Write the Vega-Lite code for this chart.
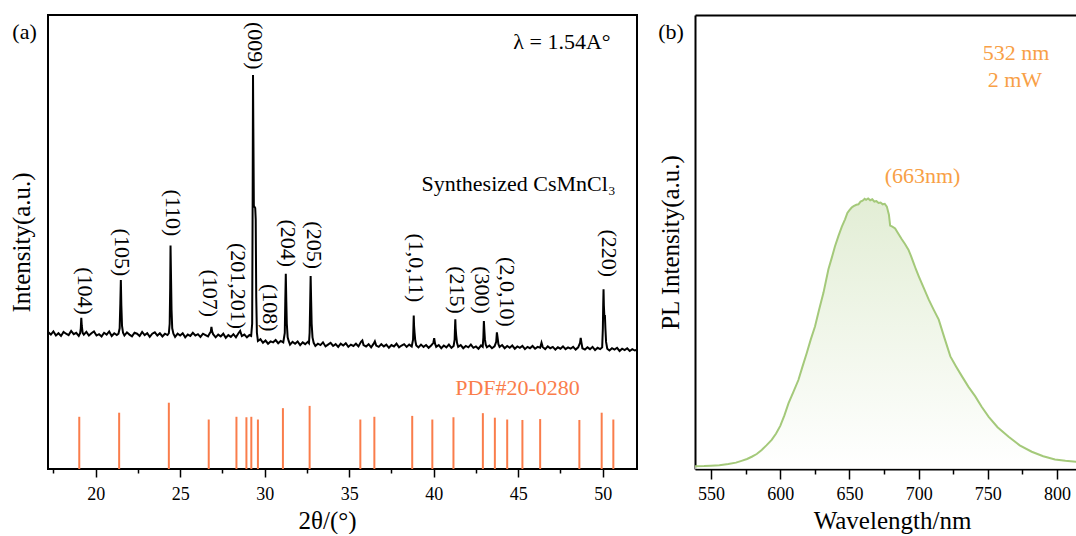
{
"$schema": "https://vega.github.io/schema/vega-lite/v6.json",
"padding": {"left": 8, "top": 14, "right": 0, "bottom": 0},
"config": {
 "font": "Liberation Serif",
 "view": {"stroke": "black", "strokeWidth": 2},
 "style": {"guide-label": {"font": "Liberation Serif", "fontSize": 18, "fill": "black"}, "guide-title": {"font": "Liberation Serif", "fontSize": 25, "fontWeight": "normal", "fill": "black"}},
 "axis": {"labelFont": "Liberation Serif", "labelFontSize": 18, "labelColor": "black", "titleFont": "Liberation Serif", "titleFontSize": 25, "titleFontWeight": "normal", "titleColor": "black", "domainColor": "black", "domainWidth": 2, "tickColor": "black", "tickWidth": 1.5, "grid": false},
 "concat": {"spacing": 20}
},
"hconcat": [
{
 "width": 589, "height": 454,
 "layer": [
  {
   "data": {"values": [
{"x":17.20,"y":30.1},{"x":17.35,"y":29.6},{"x":17.50,"y":30.3},{"x":17.65,"y":29.4},{"x":17.80,"y":29.9},{"x":17.95,"y":29.3},{"x":18.10,"y":30.2},{"x":18.25,"y":29.8},{"x":18.40,"y":29.5},{"x":18.55,"y":30.4},{"x":18.70,"y":29.7},{"x":18.85,"y":30.0},{"x":19.00,"y":29.3},{"x":19.08,"y":29.9},{"x":19.12,"y":31.0},{"x":19.15,"y":33.3},{"x":19.18,"y":31.5},{"x":19.23,"y":30.0},{"x":19.30,"y":29.6},{"x":19.45,"y":30.2},{"x":19.60,"y":29.4},{"x":19.75,"y":29.9},{"x":19.90,"y":30.3},{"x":20.05,"y":29.4},{"x":20.20,"y":29.7},{"x":20.35,"y":29.2},{"x":20.50,"y":30.0},{"x":20.65,"y":29.6},{"x":20.80,"y":30.3},{"x":20.95,"y":29.3},{"x":21.10,"y":29.9},{"x":21.25,"y":29.5},{"x":21.35,"y":29.8},{"x":21.42,"y":31.0},{"x":21.46,"y":36.5},{"x":21.49,"y":41.6},{"x":21.52,"y":36.0},{"x":21.56,"y":31.5},{"x":21.62,"y":30.0},{"x":21.70,"y":29.4},{"x":21.85,"y":30.1},{"x":22.00,"y":29.6},{"x":22.15,"y":29.2},{"x":22.30,"y":30.0},{"x":22.45,"y":29.8},{"x":22.60,"y":29.3},{"x":22.75,"y":30.2},{"x":22.90,"y":29.5},{"x":23.05,"y":29.9},{"x":23.20,"y":29.1},{"x":23.35,"y":29.8},{"x":23.50,"y":30.1},{"x":23.65,"y":29.4},{"x":23.80,"y":29.9},{"x":23.95,"y":29.2},{"x":24.10,"y":29.8},{"x":24.25,"y":29.5},{"x":24.33,"y":29.9},{"x":24.38,"y":32.0},{"x":24.41,"y":40.0},{"x":24.43,"y":49.2},{"x":24.46,"y":42.0},{"x":24.49,"y":35.0},{"x":24.53,"y":31.0},{"x":24.60,"y":29.8},{"x":24.70,"y":29.1},{"x":24.85,"y":29.8},{"x":25.00,"y":29.4},{"x":25.15,"y":29.9},{"x":25.30,"y":29.0},{"x":25.45,"y":29.6},{"x":25.60,"y":29.3},{"x":25.75,"y":30.0},{"x":25.90,"y":29.4},{"x":26.05,"y":29.7},{"x":26.20,"y":29.1},{"x":26.35,"y":29.8},{"x":26.50,"y":29.5},{"x":26.65,"y":29.2},{"x":26.75,"y":29.9},{"x":26.81,"y":30.2},{"x":26.85,"y":31.3},{"x":26.89,"y":30.3},{"x":26.95,"y":29.7},{"x":27.10,"y":29.0},{"x":27.25,"y":29.6},{"x":27.40,"y":29.2},{"x":27.55,"y":29.8},{"x":27.70,"y":28.9},{"x":27.85,"y":29.5},{"x":28.00,"y":29.1},{"x":28.15,"y":29.7},{"x":28.30,"y":29.0},{"x":28.45,"y":29.9},{"x":28.55,"y":30.4},{"x":28.65,"y":29.3},{"x":28.80,"y":29.6},{"x":28.95,"y":29.0},{"x":29.10,"y":29.5},{"x":29.20,"y":29.3},{"x":29.26,"y":32.0},{"x":29.29,"y":60.0},{"x":29.31,"y":86.8},{"x":29.33,"y":75.0},{"x":29.36,"y":58.0},{"x":29.44,"y":57.5},{"x":29.47,"y":55.0},{"x":29.50,"y":38.0},{"x":29.54,"y":30.0},{"x":29.60,"y":28.2},{"x":29.75,"y":28.6},{"x":29.90,"y":27.8},{"x":30.05,"y":28.3},{"x":30.20,"y":27.6},{"x":30.35,"y":28.1},{"x":30.50,"y":27.9},{"x":30.65,"y":28.4},{"x":30.80,"y":27.7},{"x":30.95,"y":28.2},{"x":31.10,"y":27.9},{"x":31.19,"y":30.0},{"x":31.22,"y":37.0},{"x":31.25,"y":43.0},{"x":31.28,"y":37.0},{"x":31.31,"y":32.0},{"x":31.36,"y":29.0},{"x":31.42,"y":28.2},{"x":31.50,"y":27.4},{"x":31.65,"y":28.0},{"x":31.80,"y":27.6},{"x":31.95,"y":28.1},{"x":32.10,"y":27.3},{"x":32.25,"y":27.9},{"x":32.40,"y":27.5},{"x":32.55,"y":28.0},{"x":32.62,"y":27.7},{"x":32.66,"y":30.0},{"x":32.69,"y":36.0},{"x":32.72,"y":42.5},{"x":32.75,"y":37.0},{"x":32.78,"y":32.0},{"x":32.83,"y":29.0},{"x":32.90,"y":27.8},{"x":33.00,"y":27.1},{"x":33.15,"y":27.6},{"x":33.30,"y":27.3},{"x":33.45,"y":27.9},{"x":33.60,"y":27.0},{"x":33.75,"y":27.4},{"x":33.90,"y":27.8},{"x":34.05,"y":27.1},{"x":34.20,"y":27.5},{"x":34.35,"y":26.9},{"x":34.50,"y":27.6},{"x":34.65,"y":27.2},{"x":34.80,"y":27.7},{"x":34.95,"y":26.9},{"x":35.10,"y":27.4},{"x":35.25,"y":27.1},{"x":35.40,"y":27.6},{"x":35.55,"y":27.0},{"x":35.70,"y":28.0},{"x":35.78,"y":28.3},{"x":35.85,"y":27.3},{"x":36.00,"y":27.0},{"x":36.15,"y":27.5},{"x":36.30,"y":26.8},{"x":36.45,"y":27.6},{"x":36.52,"y":28.1},{"x":36.60,"y":27.2},{"x":36.75,"y":26.9},{"x":36.90,"y":27.5},{"x":37.05,"y":27.0},{"x":37.20,"y":27.4},{"x":37.35,"y":26.7},{"x":37.50,"y":27.3},{"x":37.65,"y":27.0},{"x":37.80,"y":27.6},{"x":37.95,"y":26.8},{"x":38.10,"y":27.2},{"x":38.25,"y":27.5},{"x":38.40,"y":26.9},{"x":38.55,"y":27.4},{"x":38.70,"y":27.0},{"x":38.78,"y":28.5},{"x":38.80,"y":31.0},{"x":38.82,"y":33.8},{"x":38.84,"y":31.5},{"x":38.87,"y":30.0},{"x":38.91,"y":28.3},{"x":38.97,"y":27.2},{"x":39.10,"y":26.8},{"x":39.25,"y":27.4},{"x":39.40,"y":26.9},{"x":39.55,"y":27.3},{"x":39.70,"y":26.7},{"x":39.85,"y":27.2},{"x":39.98,"y":27.8},{"x":40.03,"y":28.8},{"x":40.08,"y":27.6},{"x":40.15,"y":26.9},{"x":40.30,"y":27.3},{"x":40.45,"y":26.6},{"x":40.60,"y":27.2},{"x":40.75,"y":26.8},{"x":40.90,"y":27.4},{"x":41.05,"y":26.7},{"x":41.18,"y":27.1},{"x":41.24,"y":28.5},{"x":41.26,"y":31.0},{"x":41.28,"y":33.0},{"x":41.30,"y":31.0},{"x":41.33,"y":29.5},{"x":41.38,"y":27.8},{"x":41.45,"y":26.9},{"x":41.60,"y":27.3},{"x":41.75,"y":26.6},{"x":41.90,"y":27.1},{"x":42.05,"y":26.8},{"x":42.20,"y":27.4},{"x":42.35,"y":26.7},{"x":42.50,"y":27.0},{"x":42.65,"y":26.5},{"x":42.80,"y":27.2},{"x":42.90,"y":26.9},{"x":42.94,"y":29.0},{"x":42.97,"y":32.6},{"x":43.00,"y":30.5},{"x":43.03,"y":28.6},{"x":43.08,"y":27.4},{"x":43.15,"y":26.8},{"x":43.30,"y":27.2},{"x":43.45,"y":26.6},{"x":43.60,"y":27.0},{"x":43.70,"y":28.0},{"x":43.74,"y":30.1},{"x":43.78,"y":29.0},{"x":43.83,"y":27.5},{"x":43.90,"y":26.9},{"x":44.05,"y":27.3},{"x":44.20,"y":26.6},{"x":44.35,"y":27.1},{"x":44.50,"y":26.7},{"x":44.65,"y":27.2},{"x":44.80,"y":26.5},{"x":44.95,"y":27.0},{"x":45.10,"y":26.7},{"x":45.25,"y":27.1},{"x":45.40,"y":26.4},{"x":45.55,"y":26.9},{"x":45.70,"y":26.6},{"x":45.85,"y":27.1},{"x":46.00,"y":26.5},{"x":46.15,"y":26.9},{"x":46.30,"y":26.7},{"x":46.38,"y":27.8},{"x":46.45,"y":26.9},{"x":46.60,"y":26.4},{"x":46.75,"y":27.0},{"x":46.90,"y":26.6},{"x":47.05,"y":26.9},{"x":47.20,"y":26.3},{"x":47.35,"y":26.8},{"x":47.50,"y":26.5},{"x":47.65,"y":27.0},{"x":47.80,"y":26.4},{"x":47.95,"y":26.8},{"x":48.10,"y":26.5},{"x":48.25,"y":26.9},{"x":48.40,"y":26.3},{"x":48.55,"y":26.8},{"x":48.66,"y":27.8},{"x":48.70,"y":28.9},{"x":48.74,"y":27.9},{"x":48.80,"y":26.6},{"x":48.95,"y":26.3},{"x":49.10,"y":26.8},{"x":49.25,"y":26.4},{"x":49.40,"y":26.9},{"x":49.55,"y":26.2},{"x":49.70,"y":26.7},{"x":49.85,"y":26.4},{"x":49.97,"y":26.8},{"x":50.01,"y":31.0},{"x":50.03,"y":36.0},{"x":50.05,"y":39.6},{"x":50.07,"y":36.0},{"x":50.10,"y":33.5},{"x":50.13,"y":33.9},{"x":50.16,"y":31.0},{"x":50.20,"y":28.0},{"x":50.27,"y":26.5},{"x":50.40,"y":26.1},{"x":50.55,"y":26.6},{"x":50.70,"y":26.3},{"x":50.85,"y":26.7},{"x":51.00,"y":26.0},{"x":51.15,"y":26.5},{"x":51.30,"y":26.2},{"x":51.45,"y":26.6},{"x":51.60,"y":26.0},{"x":51.75,"y":26.4},{"x":51.90,"y":26.1},{"x":52.05,"y":26.3}
   ]},
   "mark": {"type": "line", "color": "black", "strokeWidth": 2, "clip": true},
   "encoding": {
    "x": {"field": "x", "type": "quantitative", "scale": {"domain": [17.18, 52.03], "nice": false, "zero": false},
     "axis": {"title": "2θ/(°)", "values": [17.5,20,22.5,25,27.5,30,32.5,35,37.5,40,42.5,45,47.5,50],
      "tickSize": {"condition": {"test": "datum.value % 5 === 0", "value": 8}, "value": 4},
      "labelExpr": "datum.value % 5 === 0 ? datum.label : ''",
      "labelFont": "Liberation Serif", "labelFontSize": 18, "titleFont": "Liberation Serif",
      "labelPadding": 8, "titlePadding": 5, "titleX": 279, "domain": false}},
    "y": {"field": "y", "type": "quantitative", "scale": {"domain": [0, 100], "nice": false, "zero": false},
     "axis": {"title": "Intensity(a.u.)", "labels": false, "ticks": false, "domain": false, "titlePadding": 14, "titleFont": "Liberation Serif"}}
   }
  },
  {
   "data": {"values": [
{"x":19.03,"y":11.5},{"x":21.39,"y":12.4},{"x":24.33,"y":14.6},{"x":26.69,"y":10.9},{"x":28.33,"y":11.5},{"x":28.92,"y":11.4},{"x":29.21,"y":11.5},{"x":29.6,"y":10.9},{"x":31.08,"y":13.4},{"x":32.66,"y":13.9},{"x":35.66,"y":10.9},{"x":36.49,"y":11.5},{"x":38.73,"y":11.7},{"x":39.92,"y":10.9},{"x":41.17,"y":11.4},{"x":42.91,"y":12.3},{"x":43.62,"y":11.3},{"x":44.35,"y":10.9},{"x":45.25,"y":10.8},{"x":46.3,"y":11.0},{"x":48.62,"y":10.8},{"x":49.94,"y":12.4},{"x":50.63,"y":10.9}
   ]},
   "mark": {"type": "rule", "color": "#fa7d4b", "strokeWidth": 2},
   "encoding": {
    "x": {"field": "x", "type": "quantitative"},
    "y": {"field": "y", "type": "quantitative"},
    "y2": {"datum": 0}
   }
  },
  {
   "data": {"values": [
{"x":19.34,"y":39.2,"t":"(104)"},{"x":21.58,"y":47.7,"t":"(105)"},{"x":24.57,"y":56.4,"t":"(110)"},{"x":26.75,"y":38.7,"t":"(107)"},{"x":28.41,"y":40.3,"t":"(201,201)"},{"x":29.41,"y":93.2,"t":"(009)"},{"x":30.30,"y":35.5,"t":"(108)"},{"x":31.36,"y":49.7,"t":"(204)"},{"x":32.90,"y":49.3,"t":"(205)"},{"x":38.93,"y":44.3,"t":"(1,0,11)"},{"x":41.38,"y":39.4,"t":"(215)"},{"x":42.86,"y":39.4,"t":"(300)"},{"x":44.31,"y":39.0,"t":"(2,0,10)"},{"x":50.40,"y":47.5,"t":"(220)"}
   ]},
   "mark": {"type": "text", "angle": 90, "fontSize": 22, "font": "Liberation Serif", "align": "center", "baseline": "middle", "color": "black"},
   "encoding": {
    "x": {"field": "x", "type": "quantitative"},
    "y": {"field": "y", "type": "quantitative"},
    "text": {"field": "t"}
   }
  },
  {
   "data": {"values": [
{"x":15.79,"y":96.3,"t":"(a)"},{"x":47.59,"y":94.0,"t":"λ = 1.54A°"},{"x":45.02,"y":62.8,"t":"Synthesized CsMnCl₃"}
   ]},
   "mark": {"type": "text", "fontSize": 22, "font": "Liberation Serif", "align": "center", "baseline": "middle", "color": "black"},
   "encoding": {
    "x": {"field": "x", "type": "quantitative"},
    "y": {"field": "y", "type": "quantitative"},
    "text": {"field": "t"}
   }
  },
  {
   "data": {"values": [{"x":44.96,"y":17.95,"t":"PDF#20-0280"}]},
   "mark": {"type": "text", "fontSize": 22, "font": "Liberation Serif", "align": "center", "baseline": "middle", "color": "#fa7d4b"},
   "encoding": {
    "x": {"field": "x", "type": "quantitative"},
    "y": {"field": "y", "type": "quantitative"},
    "text": {"field": "t"}
   }
  }
 ]
},
{
 "width": 382, "height": 454,
 "view": {"stroke": null},
 "layer": [
  {
   "data": {"values": [
{"w":538.4,"v":0.6},{"w":545,"v":0.65},{"w":550,"v":0.73},{"w":556,"v":0.85},{"w":562.5,"v":1.1},{"w":568,"v":1.4},{"w":572,"v":1.8},{"w":576,"v":2.2},{"w":579.4,"v":2.7},{"w":583,"v":3.3},{"w":586.6,"v":4.2},{"w":590,"v":5.2},{"w":593.8,"v":6.4},{"w":597,"v":7.8},{"w":600,"v":9.5},{"w":603,"v":11.8},{"w":606,"v":14.5},{"w":609.5,"v":17.0},{"w":613.1,"v":19.6},{"w":616,"v":22.5},{"w":619.1,"v":25.5},{"w":622,"v":28.5},{"w":625.1,"v":31.4},{"w":628,"v":35.0},{"w":631.2,"v":38.8},{"w":634.8,"v":44.0},{"w":637.2,"v":46.5},{"w":639.5,"v":49.0},{"w":642,"v":51.3},{"w":644.5,"v":53.4},{"w":646.8,"v":55.0},{"w":648.5,"v":56.4},{"w":650,"v":57.0},{"w":651.6,"v":57.6},{"w":653,"v":57.9},{"w":655,"v":58.2},{"w":656.5,"v":58.3},{"w":658,"v":58.9},{"w":659.5,"v":59.1},{"w":661,"v":59.5},{"w":662,"v":59.3},{"w":663.5,"v":59.6},{"w":665,"v":59.2},{"w":666.5,"v":59.4},{"w":668,"v":58.9},{"w":669.5,"v":59.0},{"w":671,"v":58.6},{"w":672.5,"v":58.7},{"w":674,"v":58.3},{"w":675.5,"v":58.4},{"w":677,"v":57.8},{"w":678.5,"v":56.0},{"w":679.4,"v":53.6},{"w":681,"v":53.4},{"w":683,"v":53.0},{"w":685,"v":52.0},{"w":687.8,"v":50.6},{"w":690,"v":49.6},{"w":692.6,"v":48.3},{"w":694.5,"v":46.9},{"w":696.3,"v":45.4},{"w":698,"v":44.0},{"w":700,"v":42.5},{"w":703.5,"v":40.0},{"w":707.3,"v":37.3},{"w":711,"v":35.0},{"w":714.5,"v":32.9},{"w":718.5,"v":29.0},{"w":722.9,"v":24.8},{"w":727,"v":22.6},{"w":731.3,"v":20.4},{"w":736,"v":18.1},{"w":740.9,"v":16.0},{"w":745.5,"v":13.7},{"w":750.6,"v":11.5},{"w":757,"v":9.2},{"w":765,"v":7.1},{"w":773,"v":5.2},{"w":781.7,"v":3.8},{"w":790,"v":2.8},{"w":798.5,"v":2.1},{"w":806,"v":1.8},{"w":814.4,"v":1.6}
   ]},
   "mark": {"type": "area", "clip": true,
    "color": {"gradient": "linear", "x1": 0, "y1": 0, "x2": 0, "y2": 1, "stops": [{"offset": 0, "color": "#d6e6c3"}, {"offset": 1, "color": "#ffffff"}]},
    "line": {"color": "#a4c97a", "strokeWidth": 2}},
   "encoding": {
    "x": {"field": "w", "type": "quantitative", "scale": {"domain": [538.4, 814.4], "nice": false, "zero": false},
     "axis": {"title": "Wavelength/nm", "values": [550,575,600,625,650,675,700,725,750,775,800],
      "tickSize": {"condition": {"test": "datum.value % 50 === 0", "value": 10}, "value": 5},
      "labelExpr": "datum.value % 50 === 0 ? datum.label : ''",
      "labelFont": "Liberation Serif", "labelFontSize": 18, "titleFont": "Liberation Serif",
      "labelPadding": 6, "titlePadding": 5, "titleX": 197}},
    "y": {"field": "v", "type": "quantitative", "scale": {"domain": [0, 100], "nice": false, "zero": false},
     "axis": {"title": "PL Intensity(a.u.)", "labels": false, "ticks": false, "titlePadding": 12, "titleFont": "Liberation Serif"}}
   }
  },
  {
   "data": {"values": [
{"w":770.3,"v":91.6,"t":"532 nm"},{"w":769.5,"v":85.7,"t":"2 mW"},{"w":702.8,"v":64.5,"t":"(663nm)"}
   ]},
   "mark": {"type": "text", "fontSize": 22, "font": "Liberation Serif", "align": "center", "baseline": "middle", "color": "#f8a046"},
   "encoding": {
    "x": {"field": "w", "type": "quantitative", "axis": {"orient": "top", "labels": false, "ticks": false, "title": null}},
    "y": {"field": "v", "type": "quantitative"},
    "text": {"field": "t"}
   }
  },
  {
   "data": {"values": [{"w":521.1,"v":96.3,"t":"(b)"}]},
   "mark": {"type": "text", "fontSize": 22, "font": "Liberation Serif", "align": "center", "baseline": "middle", "color": "black"},
   "encoding": {
    "x": {"field": "w", "type": "quantitative", "axis": null},
    "y": {"field": "v", "type": "quantitative"},
    "text": {"field": "t"}
   }
  }
 ],
 "resolve": {"axis": {"x": "independent"}}
}
]
}
